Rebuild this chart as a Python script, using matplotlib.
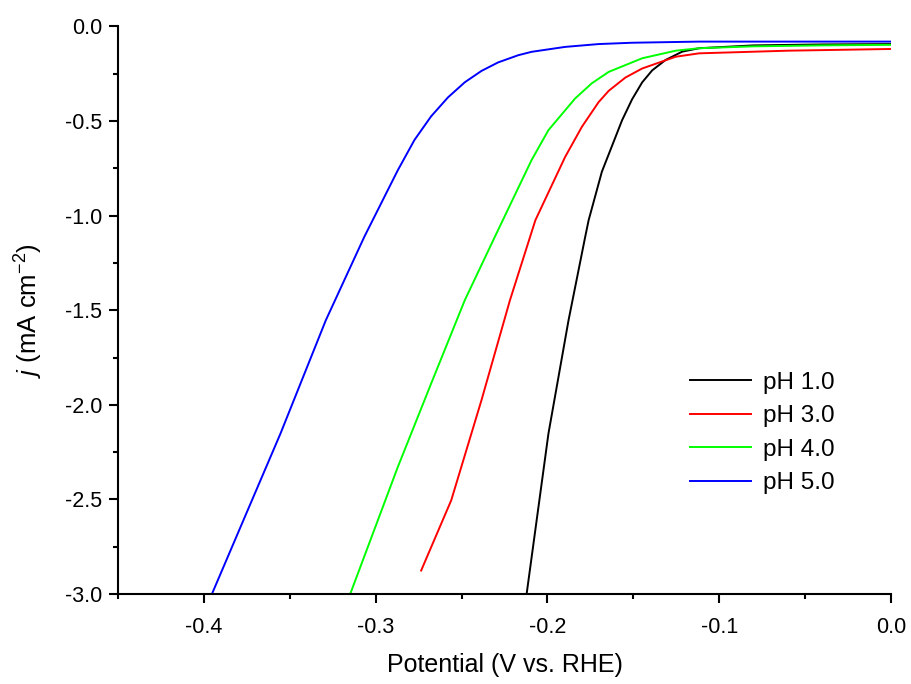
import matplotlib
matplotlib.use("Agg")
from matplotlib import pyplot as plt
from matplotlib.ticker import MultipleLocator

plt.rcParams['font.family'] = ['Liberation Sans', 'DejaVu Sans']
plt.rcParams['mathtext.fontset'] = 'custom'
plt.rcParams['mathtext.rm'] = 'Liberation Sans'
plt.rcParams['mathtext.it'] = 'Liberation Sans:italic'

# LSV curves (V vs. RHE, mA cm-2)
ph1_x = [-0.2121, -0.1994, -0.1877, -0.1780, -0.1760, -0.1683, -0.1565, -0.1507, -0.1448, -0.1390, -0.1312, -0.1215, -0.1117, -0.08, -0.04, 0.0]
ph1_y = [-3.0, -2.152, -1.553, -1.112, -1.024, -0.768, -0.495, -0.385, -0.295, -0.232, -0.177, -0.133, -0.115, -0.100, -0.095, -0.093]

ph3_x = [-0.2735, -0.2560, -0.2384, -0.2218, -0.2070, -0.1897, -0.1799, -0.1702, -0.1643, -0.1546, -0.1448, -0.1253, -0.1117, -0.06, 0.0]
ph3_y = [-2.876, -2.505, -1.976, -1.447, -1.024, -0.690, -0.530, -0.400, -0.340, -0.270, -0.222, -0.160, -0.142, -0.128, -0.119]

ph4_x = [-0.3148, -0.2871, -0.2677, -0.2481, -0.2306, -0.2092, -0.1994, -0.1838, -0.1741, -0.1643, -0.1448, -0.1253, -0.1117, -0.08, -0.04, 0.0]
ph4_y = [-3.0, -2.329, -1.888, -1.447, -1.112, -0.706, -0.548, -0.380, -0.300, -0.240, -0.168, -0.128, -0.115, -0.105, -0.100, -0.097]

ph5_x = [-0.3953, -0.3765, -0.3554, -0.3290, -0.3066, -0.2871, -0.2774, -0.2677, -0.2579, -0.2481, -0.2384, -0.2287, -0.2170, -0.2092, -0.1897, -0.1702, -0.1507, -0.1117, -0.05, 0.0]
ph5_y = [-3.0, -2.6, -2.152, -1.553, -1.112, -0.760, -0.600, -0.475, -0.375, -0.295, -0.235, -0.190, -0.152, -0.134, -0.108, -0.093, -0.086, -0.080, -0.080, -0.080]

labels = ['pH 1.0', 'pH 3.0', 'pH 4.0', 'pH 5.0']
colors = ['#000000', '#ff0000', '#00ff00', '#0000ff']

fig = plt.figure(figsize=(9.11, 6.84), dpi=100)
ax = fig.add_axes([0.1295, 0.1316, 0.8485, 0.8297])

for xs, ys, lab, c in zip([ph1_x, ph3_x, ph4_x, ph5_x], [ph1_y, ph3_y, ph4_y, ph5_y], labels, colors):
    ax.plot(xs, ys, color=c, lw=1.4, label=lab)

ax.set_xlim(-0.45, 0.0)
ax.set_ylim(-3.0, 0.0)
ax.xaxis.set_major_locator(MultipleLocator(0.1))
ax.xaxis.set_minor_locator(MultipleLocator(0.05))
ax.yaxis.set_major_locator(MultipleLocator(0.5))
ax.yaxis.set_minor_locator(MultipleLocator(0.25))
ax.xaxis.set_major_formatter(lambda v, p: f'{v:.1f}' if abs(v) > 1e-9 else '0.0')
ax.yaxis.set_major_formatter(lambda v, p: f'{v:.1f}' if abs(v) > 1e-9 else '0.0')

for s in ['top', 'right']:
    ax.spines[s].set_visible(False)
for s in ['left', 'bottom']:
    ax.spines[s].set_linewidth(1.5)
ax.tick_params(which='major', direction='out', length=6.5, width=1.5, labelsize=15.5)
ax.tick_params(axis='x', which='major', pad=10)
ax.tick_params(axis='y', which='major', pad=5)
ax.tick_params(which='minor', direction='out', length=3.5, width=1.5)

ax.set_xlabel('Potential (V vs. RHE)', fontsize=18, labelpad=11)
ax.set_ylabel(r'$j$ (mA cm$^{-2}$)', fontsize=18.5, labelpad=14)

ax.legend(loc='upper left', bbox_to_anchor=(0.740, 0.3915), frameon=False, fontsize=17.5,
          handlelength=2.5, handletextpad=0.5, labelspacing=0.47, borderpad=0, borderaxespad=0)

plt.savefig('out.png', dpi=100)
